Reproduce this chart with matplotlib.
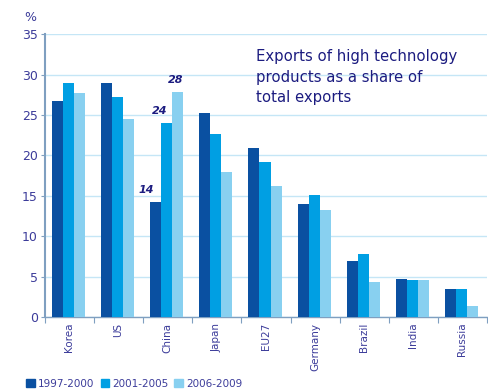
import matplotlib.pyplot as plt
import numpy as np
from matplotlib.patches import Rectangle

countries = ['Korea', 'US', 'China', 'Japan', 'EU27', 'Germany', 'Brazil', 'India', 'Russia']
periods = ['1997-2000', '2001-2005', '2006-2009']
share_1997_2000 = [26.7, 29.0, 14.2, 25.3, 20.9, 14.0, 6.9, 4.7, 3.5]
share_2001_2005 = [28.9, 27.2, 24.0, 22.7, 19.2, 15.1, 7.8, 4.6, 3.5]
share_2006_2009 = [27.7, 24.5, 27.8, 17.9, 16.2, 13.3, 4.4, 4.6, 1.4]

colors = ['#0a50a1', '#009fe3', '#88d0f0']
text_col = '#1c1c80'
tick_col = '#3c3c9a'

fig = plt.figure(figsize=(4.88, 3.92), dpi=100)
ax = fig.add_axes([0.092, 0.191, 0.906, 0.722])

x = np.arange(len(countries))
w = 0.225
series = [share_1997_2000, share_2001_2005, share_2006_2009]
for i, vals in enumerate(series):
    ax.bar(x + (i - 1) * w - 0.02, vals, w, color=colors[i], label=periods[i], zorder=3)

# value labels for China
ci = countries.index('China')
label_dx = [-0.06, -0.01, -0.06]
for i, vals in enumerate(series):
    ax.text(x[ci] + (i - 1) * w + label_dx[i], vals[ci] + 0.9, '%.0f' % vals[ci],
            ha='right' if i < 2 else 'center', va='bottom', fontsize=8,
            fontweight='bold', fontstyle='italic', color=text_col)

ax.set_xlim(-0.5, len(countries) - 0.5)
ax.set_ylim(0, 35)
ax.set_yticks(range(0, 36, 5))
ax.yaxis.grid(True, color='#c5e6f6', linewidth=1.0, zorder=0)
ax.set_axisbelow(True)

ax.set_xticks(np.arange(len(countries) + 1) - 0.5, minor=False)
ax.set_xticklabels([])
ax.set_xticks(x, minor=True)
ax.set_xticklabels(countries, minor=True, rotation=90, fontsize=7.5, color=tick_col)
ax.tick_params(axis='x', which='minor', length=0, pad=4)
ax.tick_params(axis='x', which='major', length=4, color='#7f9fc0', direction='out')
ax.tick_params(axis='y', length=3, color='#7f9fc0', labelsize=9, labelcolor=tick_col, pad=2)

for s in ['top', 'right']:
    ax.spines[s].set_visible(False)
ax.spines['left'].set_color('#7f9fc0')
ax.spines['left'].set_linewidth(1.5)
ax.spines['bottom'].set_color('#7f9fc0')
ax.spines['bottom'].set_linewidth(1.0)

fig.text(0.062, 0.956, '%', fontsize=9, color=tick_col, ha='center', va='center')
fig.text(0.525, 0.874, 'Exports of high technology\nproducts as a share of\ntotal exports',
         fontsize=10.7, color=text_col, ha='left', va='top', linespacing=1.45)

fig.legend(handles=[Rectangle((0, 0), 1, 1, color=c) for c in colors], labels=periods,
           loc='lower left', bbox_to_anchor=(0.035, -0.015), ncol=3, frameon=False,
           fontsize=7.5, handlelength=0.8, handleheight=0.8, handletextpad=0.3,
           columnspacing=0.6, labelcolor=tick_col)

fig.savefig('out.png', dpi=100)
